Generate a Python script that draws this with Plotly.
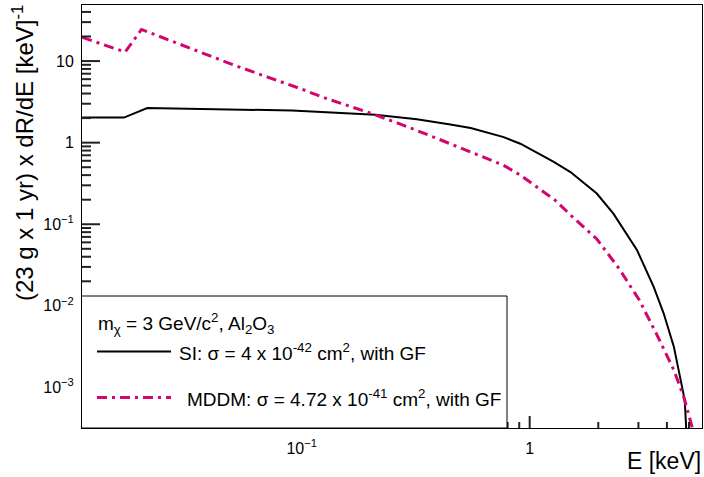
import plotly.graph_objects as go

# ---- data ----
si_energy = [0.0109, 0.0166, 0.021, 0.036, 0.0906, 0.21, 0.32, 0.449, 0.551, 0.769, 0.91,
             1.08, 1.27, 1.51, 1.97, 2.33, 2.67, 2.96, 3.5, 3.87, 4.29, 4.58, 4.79, 4.9]
si_rate = [2.03, 2.03, 2.65, 2.6, 2.48, 2.2, 1.93, 1.67, 1.51, 1.17, 0.97,
           0.75, 0.585, 0.436, 0.238, 0.135, 0.074, 0.048, 0.0171, 0.0081, 0.00316,
           0.00135, 0.0007, 0.0002]

mddm_energy = [0.0109, 0.0168, 0.0198, 0.05, 0.0988, 0.129, 0.194, 0.271, 0.379, 0.551,
               0.769, 0.91, 1.08, 1.30, 1.51, 1.97, 2.47, 3.03, 3.59, 4.29, 4.74, 5.17, 5.3]
mddm_rate = [19.5, 12.9, 24.4, 9.0, 4.58, 3.46, 2.37, 1.69, 1.17, 0.767,
             0.527, 0.40, 0.285, 0.195, 0.13, 0.066, 0.0285, 0.0117, 0.0046, 0.00163,
             0.00077, 0.00032, 0.0002]

x_tick_vals = [0.1, 1]
x_tick_text = ["10<sup>\u22121</sup>", "1"]
y_tick_vals = [0.001, 0.01, 0.1, 1, 10]
y_tick_text = ["10<sup>\u22123</sup>", "10<sup>\u22122</sup>", "10<sup>\u22121</sup>", "1", "10"]

legend_header = "m<sub>\u03c7</sub> = 3 GeV/c<sup>2</sup>, Al<sub>2</sub>O<sub>3</sub>"
si_label = "SI: \u03c3 = 4 x 10<sup>-42</sup> cm<sup>2</sup>, with GF"
mddm_label = "MDDM: \u03c3 = 4.72 x 10<sup>-41</sup> cm<sup>2</sup>, with GF"
x_title = "E [keV]"
y_title = "(23 g x 1 yr) x dR/dE [keV]<sup>-1</sup>"

MAGENTA = "#d2066e"
FONT = "Liberation Sans, Arial, sans-serif"
X_RANGE = [-1.964, 0.756]
Y_RANGE = [-3.497, 1.687]

x_minor = [m * 10 ** k for k in (-2, -1, 0) for m in range(2, 10) if 0.0109 < m * 10 ** k < 5.7]
y_minor = [m * 10 ** k for k in (-4, -3, -2, -1, 0, 1) for m in range(2, 10) if 3.2e-4 < m * 10 ** k < 48]

fig = go.Figure()
fig.add_trace(go.Scatter(x=si_energy, y=si_rate, mode="lines",
                         line=dict(color="black", width=2), showlegend=False))
fig.add_trace(go.Scatter(x=mddm_energy, y=mddm_rate, mode="lines",
                         line=dict(color=MAGENTA, width=3, dash="10px,5px,3px,5px"),
                         showlegend=False))

W, H = 704, 477
L, R, T, B = 82, 2, 5, 49
pw, ph = W - L - R, H - T - B


def px(xp):
    return (xp - L) / pw


def py(yp):
    return (H - B - yp) / ph


# ROOT-style tick marks inside the frame, positioned through the axes' scales
TICK_LINE = dict(color="#222222", width=2)
tick_shapes = []
for vals, ln in ((x_tick_vals, 12), (x_minor, 6)):
    for v in vals:
        tick_shapes.append(dict(type="line", xref="x", yref="paper", x0=v, x1=v,
                                y0=0, y1=ln / ph, line=TICK_LINE))
for vals, ln in ((y_tick_vals, 18), (y_minor, 9)):
    for v in vals:
        tick_shapes.append(dict(type="line", xref="paper", yref="y", x0=0, x1=ln / pw,
                                y0=v, y1=v, line=TICK_LINE))

legend_shapes = [
    dict(type="rect", xref="paper", yref="paper", x0=px(81.5), x1=px(507),
         y0=py(428), y1=py(296), fillcolor="white",
         line=dict(color="black", width=1), layer="above"),
    dict(type="line", xref="paper", yref="paper", x0=px(97), x1=px(171),
         y0=py(351.5), y1=py(351.5), line=dict(color="black", width=2), layer="above"),
    dict(type="line", xref="paper", yref="paper", x0=px(97), x1=px(171),
         y0=py(397.5), y1=py(397.5),
         line=dict(color=MAGENTA, width=3, dash="10px,5px,3px,5px"), layer="above"),
]

common = dict(showgrid=False, zeroline=False, automargin=False, showline=True,
              mirror=True, linecolor="black", linewidth=1, ticks="outside",
              tickcolor="rgba(0,0,0,0)", tickmode="array", tickfont=dict(size=16))

fig.update_layout(
    width=W, height=H,
    margin=dict(l=L, r=R, t=T, b=B, autoexpand=False),
    paper_bgcolor="white", plot_bgcolor="rgba(0,0,0,0)",
    font=dict(family=FONT, size=16, color="black"),
    xaxis=dict(type="log", range=X_RANGE, ticklen=6, tickvals=x_tick_vals,
               ticktext=x_tick_text, **common),
    yaxis=dict(type="log", range=Y_RANGE, ticklen=4, tickvals=y_tick_vals,
               ticktext=y_tick_text, **common),
    shapes=tick_shapes + legend_shapes,
    annotations=[
        dict(text=legend_header, xref="paper", yref="paper", x=px(96), y=py(323),
             xanchor="left", yanchor="middle", showarrow=False, font=dict(size=19)),
        dict(text=si_label, xref="paper", yref="paper", x=px(177), y=py(351.5),
             xanchor="left", yanchor="middle", showarrow=False, font=dict(size=19)),
        dict(text=mddm_label, xref="paper", yref="paper", x=px(185), y=py(397.5),
             xanchor="left", yanchor="middle", showarrow=False, font=dict(size=19)),
        dict(text=x_title, xref="paper", yref="paper", x=px(703), y=py(461),
             xanchor="right", yanchor="middle", showarrow=False, font=dict(size=23)),
        dict(text=y_title, xref="paper", yref="paper", x=px(23), y=py(3),
             xanchor="center", yanchor="top", textangle=-90, showarrow=False,
             font=dict(size=24)),
    ],
)

fig.write_html("out.html", config={"displayModeBar": False},
               post_script="document.body.style.margin='0';")
